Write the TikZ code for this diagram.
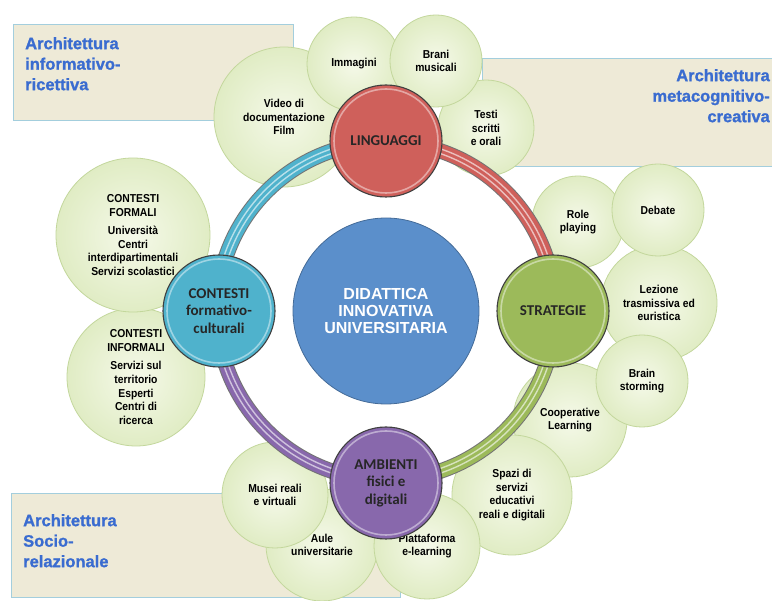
\documentclass[tikz,border=0pt]{standalone}
\usepackage{fontspec}
\setmainfont{Liberation Sans}
\newfontface\bubfont[FakeStretch=0.9]{Liberation Sans Bold}
\newfontface\archfont[FakeBold=1.2]{Liberation Sans Bold}
\newfontface\cenfont{Liberation Sans Bold}
\newfontfamily\calfont{Carlito}
\definecolor{bgfill}{HTML}{EEEAD7}
\definecolor{bgdraw}{HTML}{A3CEDD}
\definecolor{bubin}{HTML}{F5F9E9}
\definecolor{bubout}{HTML}{E0ECC4}
\definecolor{bubdraw}{HTML}{C3D79C}
\definecolor{archblue}{HTML}{3A6CD0}
\definecolor{cblue}{HTML}{5B8FCB}
\definecolor{cred}{HTML}{CF605B}
\definecolor{cgreen}{HTML}{9CBA5A}
\definecolor{ccyan}{HTML}{4FB2CC}
\definecolor{cpurple}{HTML}{8868AC}
\tikzset{
  archbox/.style={fill=bgfill, draw=bgdraw, line width=0.8pt},
  archtext/.style={font=\archfont\fontsize{16.5}{20.5}\selectfont, text=archblue, inner sep=0pt},
  bubble/.style={circle, draw=bubdraw, line width=0.8pt, inner color=bubin, outer color=bubout,
    minimum size=#1, inner sep=0pt, align=center,
    font=\bubfont\fontsize{11.5}{13.6}\selectfont, text=black},
  hub/.style={circle, draw=black!75, line width=1.1pt, fill=#1, minimum size=112pt, inner sep=0pt,
    align=center, font=\calfont\bfseries\fontsize{15}{17.5}\selectfont, text=black!85},
  hubrim/.style={circle, draw=white, opacity=0.45, line width=1.6pt, minimum size=104pt, inner sep=0pt},
  ringedge/.style={line width=15.5pt, draw=black!55},
  ringarc/.style={line width=13.5pt, draw=#1},
  ringhl/.style={line width=1.4pt, draw=white, opacity=0.6},
}
\begin{document}
\begin{tikzpicture}[x=1pt, y=-1pt]
\useasboundingbox (0,0) rectangle (772,601);
\fill[white] (0,0) rectangle (772,601);
% background panels
\draw[archbox] (13,24) rectangle (293,120);
\draw[archbox] (482,58) rectangle (780,166);
\draw[archbox] (11,493) rectangle (400,597);
\node[archtext, anchor=north west, align=left] (t1) at (25,37) {Architettura\\informativo-\\ricettiva};
\node[archtext, anchor=north east, align=right] (t2) at (770,69) {Architettura\\metacognitivo-\\creativa};
\node[archtext, anchor=north west, align=left] (t3) at (23,514) {Architettura\\Socio-\\relazionale};
% bubbles
\node[bubble=140pt] (video) at (284,117) {Video di\\documentazione\\Film};
\node[bubble=96pt] (testi) at (486,128) {Testi\\scritti\\e orali};
\node[bubble=94pt] (imm) at (354,64) {Immagini};
\node[bubble=92pt] (brani) at (436,61) {Brani\\musicali};
\node[bubble=138pt] (inf) at (136,377) {CONTESTI\\INFORMALI\\[5pt]Servizi sul\\territorio\\Esperti\\Centri di\\ricerca};
\node[bubble=154pt] (form) at (133,235) {CONTESTI\\FORMALI\\[5pt]Università\\Centri\\interdipartimentali\\Servizi scolastici};
\node[bubble=116pt] (lez) at (659,303) {Lezione\\trasmissiva ed\\euristica};
\node[bubble=92pt] (role) at (578,222) {Role\\playing};
\node[bubble=92pt] (deb) at (658,210) {Debate};
\node[bubble=114pt] (coop) at (570,420) {Cooperative\\Learning};
\node[bubble=92pt] (brain) at (642,381) {Brain\\storming};
\node[bubble=120pt] (spazi) at (512,495) {Spazi di\\servizi\\educativi\\reali e digitali};
\node[bubble=112pt] (aule) at (322,545) {Aule\\universitarie};
\node[bubble=106pt] (piat) at (427,546) {Piattaforma\\e-learning};
\node[bubble=106pt] (musei) at (275,495) {Musei reali\\e virtuali};
% centre
\node[circle, minimum size=186pt, inner sep=0pt, fill=cblue, draw=cblue!75!black, line width=0.8pt,
  align=center, text=white, font=\cenfont\fontsize{16}{17}\selectfont] (C) at (386,311)
  {DIDATTICA\\INNOVATIVA\\UNIVERSITARIA};
% ring arcs
\draw[ringedge] (C.center) circle[radius=169];
\draw[ringarc=ccyan] ([shift={(180:169)}]C.center) arc[start angle=180, end angle=270, radius=169];
\draw[ringarc=cred] ([shift={(270:169)}]C.center) arc[start angle=270, end angle=360, radius=169];
\draw[ringarc=cgreen] ([shift={(0:169)}]C.center) arc[start angle=0, end angle=90, radius=169];
\draw[ringarc=cpurple] ([shift={(90:169)}]C.center) arc[start angle=90, end angle=180, radius=169];
\draw[ringhl] (C.center) circle[radius=166.5];
\draw[ringhl] (C.center) circle[radius=171];
% hubs
\node[hub=cred] (L) at (386,141) {LINGUAGGI};
\node[hub=cgreen] (S) at (553,311) {STRATEGIE};
\node[hub=cpurple] (A) at (386,483) {AMBIENTI\\fisici e\\digitali};
\node[hub=ccyan] (K) at (219,311) {CONTESTI\\formativo-\\culturali};
\foreach \h in {L,S,A,K} \node[hubrim] at (\h) {};
\end{tikzpicture}
\end{document}
